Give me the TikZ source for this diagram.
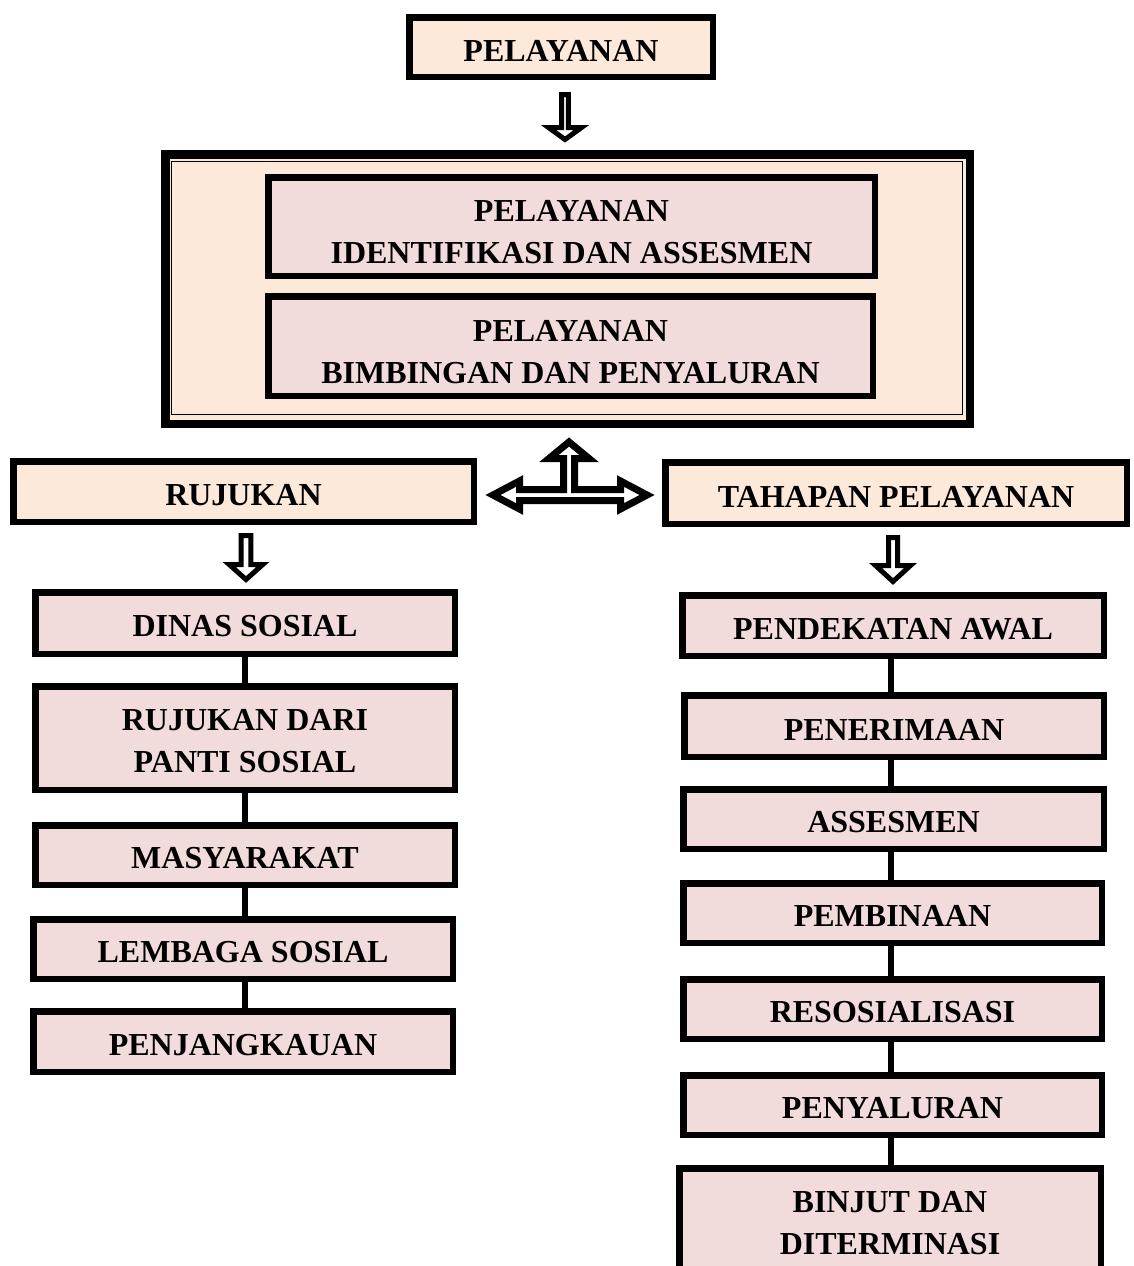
\documentclass[tikz,border=0pt]{standalone}
\usepackage{fontspec}
\setmainfont{Liberation Serif}
\usetikzlibrary{calc}
\definecolor{peach}{HTML}{FDE9D9}
\definecolor{pinkbox}{HTML}{F2DCDB}
\newcommand\topstrut{\rule{0pt}{28pt}}
\tikzset{
  txt/.style={font=\bfseries\fontsize{32}{42}\selectfont, align=center, inner sep=0pt},
  stxt/.style={txt, execute at begin node=\topstrut},
  pbox/.style={stxt, draw, line width=6.5pt, fill=pinkbox},
  obox/.style={stxt, draw, line width=6.5pt, fill=peach},
  link/.style={line width=6pt},
  blockarrow/.style={draw, fill=white, line width=5pt, miter limit=10},
}
\newcommand\hollowdown[6]{%
  \draw[blockarrow] ({#1-#5},#2) -- ({#1+#5},#2) -- ({#1+#5},#3) -- ({#1+#6},#3)
    -- (#1,#4) -- ({#1-#6},#3) -- ({#1-#5},#3) -- cycle;}
\begin{document}
\begin{tikzpicture}[x=1pt,y=-1pt]
\useasboundingbox (0,0) rectangle (1133,1266);
\clip (0,0) rectangle (1133,1266);

% top
\node[obox, minimum width=303.5pt, minimum height=59.5pt] (pel) at (561,47) {PELAYANAN};
\hollowdown{565}{94.5}{127.5}{139.5}{3.3}{16.5}

% big service box
\node[draw, fill=peach, line width=8.5pt, minimum width=804.5pt, minimum height=269.5pt] (svc) at (567.5,289) {};
\draw[line width=1.5pt] (171.7,161.7) rectangle (962.7,414.3);
\node[pbox, minimum width=606.5pt, minimum height=98.5pt,
  label={[txt, yshift=-6pt]center:{PELAYANAN\\IDENTIFIKASI DAN ASSESMEN}}] (idn) at (571.5,226.5) {};
\node[pbox, minimum width=604.5pt, minimum height=99.5pt,
  label={[txt, yshift=-6pt]center:{PELAYANAN\\BIMBINGAN DAN PENYALURAN}}] (bbg) at (570.5,346) {};

% triple arrow
\draw[blockarrow, line width=7pt] (569,442) -- (589,458.5) -- (574.5,458.5) -- (574.5,489.5) -- (620.5,489.5) -- (620.5,481)
  -- (647,495) -- (620.5,509) -- (620.5,500.5) -- (519.5,500.5) -- (519.5,509) -- (493,495) -- (519.5,481)
  -- (519.5,489.5) -- (563.5,489.5) -- (563.5,458.5) -- (549,458.5) -- cycle;

\node[obox, minimum width=460.5pt, minimum height=60.5pt] (ruj) at (243.5,491.5) {RUJUKAN};
\node[obox, minimum width=461.5pt, minimum height=61.5pt] (tah) at (896,493) {TAHAPAN PELAYANAN};

\hollowdown{246}{535.5}{564.5}{579.5}{4.8}{16.8}
\hollowdown{893}{537.5}{565.5}{581.5}{4.5}{17.5}

% left column
\node[pbox, minimum width=419.5pt, minimum height=61.5pt] (din) at (245,623) {DINAS SOSIAL};
\node[pbox, minimum width=419.5pt, minimum height=103.5pt,
  label={[txt, yshift=-3pt]center:{RUJUKAN DARI\\PANTI SOSIAL}}] (pan) at (245,738) {};
\node[pbox, minimum width=419.5pt, minimum height=59.5pt] (mas) at (245,855) {MASYARAKAT};
\node[pbox, minimum width=419.5pt, minimum height=59.5pt] (lem) at (243,949) {LEMBAGA SOSIAL};
\node[pbox, minimum width=419.5pt, minimum height=60.5pt] (pjk) at (243,1041.5) {PENJANGKAUAN};
\draw[link] (din.south) -- (din.south |- pan.north);
\draw[link] (pan.south) -- (pan.south |- mas.north);
\draw[link] (mas.south) -- (mas.south |- lem.north);
\draw[link] (mas.south |- lem.south) -- (mas.south |- pjk.north);

% right column
\node[pbox, minimum width=421.5pt, minimum height=60.5pt] (pa) at (893,625.5) {PENDEKATAN AWAL};
\node[pbox, minimum width=419.5pt, minimum height=61.5pt] (pen) at (894,726) {PENERIMAAN};
\node[pbox, minimum width=420.5pt, minimum height=59.5pt] (ass) at (893.5,819) {ASSESMEN};
\node[pbox, minimum width=418.5pt, minimum height=59.5pt] (pem) at (892.5,913) {PEMBINAAN};
\node[pbox, minimum width=418.5pt, minimum height=59.5pt] (res) at (892.5,1009) {RESOSIALISASI};
\node[pbox, minimum width=418.5pt, minimum height=59.5pt] (pny) at (892.5,1105) {PENYALURAN};
\node[pbox, minimum width=421.5pt, minimum height=110.5pt,
  label={[txt]center:{BINJUT DAN\\DITERMINASI}}] (bin) at (890,1223.5) {};
\coordinate (rx) at (891,0);
\draw[link] (rx |- pa.south) -- (rx |- pen.north);
\draw[link] (rx |- pen.south) -- (rx |- ass.north);
\draw[link] (rx |- ass.south) -- (rx |- pem.north);
\draw[link] (rx |- pem.south) -- (rx |- res.north);
\draw[link] (rx |- res.south) -- (rx |- pny.north);
\draw[link] (rx |- pny.south) -- (rx |- bin.north);
\end{tikzpicture}
\end{document}
